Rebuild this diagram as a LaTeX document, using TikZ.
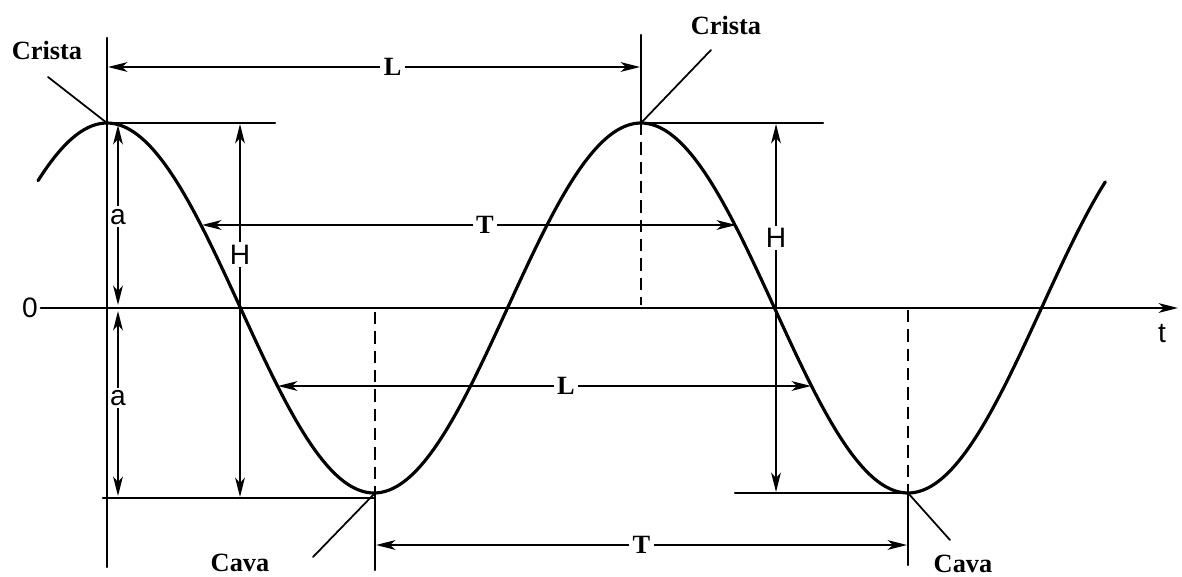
\documentclass[tikz,border=0pt]{standalone}
\usepackage{fontspec}
\setmainfont{Liberation Serif}
\setsansfont{Liberation Sans}
\usetikzlibrary{arrows.meta}

\begin{document}
\begin{tikzpicture}[x=0.02cm, y=-0.02cm, line cap=round,
    >={Stealth[length=11pt,width=5.5pt,inset=3pt]},
    wave/.style={line width=1.8pt},
    guide/.style={line width=1.4pt},
    dashguide/.style={line width=1.4pt, line cap=butt, dash pattern=on 7pt off 4pt},
    dim/.style={<->, line width=1.2pt},
    seriflbl/.style={font=\fontsize{15}{18}\selectfont\bfseries, inner sep=2pt},
    sanslbl/.style={font=\fontsize{16}{19}\selectfont\sffamily, inner sep=1.5pt},
    gap/.style={fill=white}]
  \def\A{185}       % amplitude in px
  \def\K{1.48333}   % px per degree of phase (wavelength 534 px)
  \useasboundingbox (0,0) rectangle (1182,577);

  % crests and troughs
  \coordinate (crA) at (107,123);
  \coordinate (crB) at (641,123);
  \coordinate (cvA) at (375,493);
  \coordinate (cvB) at (908,493);

  % axis
  \node[sanslbl] (zero) at (30,308) {0};
  \coordinate (axend) at (1178,308);
  \draw[guide, ->] (zero.east) -- (axend);
  \node[sanslbl] (tlbl) at (1162,334) {t};

  % the wave (phase in degrees, keeps numbers small)
  \draw[wave] plot[domain=-46.5:673, samples=200, smooth]
    ({107+\K*\x}, {308-\A*cos(\x)});

  % vertical reference lines
  \coordinate (vAtop) at (107,38);  \coordinate (vAbot) at (107,567);
  \coordinate (vBtop) at (641,35);  \coordinate (vBax) at (641,305);
  \coordinate (vCax) at (375,312);  \coordinate (vCbot) at (375,570);
  \coordinate (vDax) at (908,310);  \coordinate (vDbot) at (908,565);
  \draw[guide] (vAtop) -- (vAbot);
  \draw[guide] (vBtop) -- (crB);
  \draw[dashguide] (crB) -- (vBax);
  \draw[dashguide] (vCax) -- (cvA);
  \draw[guide] (cvA) -- (vCbot);
  \draw[dashguide] (vDax) -- (cvB);
  \draw[guide] (cvB) -- (vDbot);

  % horizontal reference lines
  \coordinate (hAend) at (275,123);
  \coordinate (hBend) at (823,123);
  \coordinate (hCbeg) at (103,498);  \coordinate (hCend) at (375,498);
  \coordinate (hDbeg) at (735,493);
  \draw[guide] (crA) -- (hAend);
  \draw[guide] (crB) -- (hBend);
  \draw[guide] (hCbeg) -- (hCend);
  \draw[guide] (hDbeg) -- (cvB);

  % wave length and period
  \coordinate (LupA) at (108,67);   \coordinate (LupB) at (640,67);
  \coordinate (TupA) at (202,225);  \coordinate (TupB) at (736,225);
  \coordinate (LloA) at (278,386);  \coordinate (LloB) at (811,386);
  \coordinate (TloA) at (376,545);  \coordinate (TloB) at (907,545);
  \draw[dim] (LupA) -- node[seriflbl, gap, pos=0.535] (Lup) {L} (LupB);
  \draw[dim] (TupA) -- node[seriflbl, gap, pos=0.53] (Tup) {T} (TupB);
  \draw[dim] (LloA) -- node[seriflbl, gap, pos=0.54] (Llo) {L} (LloB);
  \draw[dim] (TloA) -- node[seriflbl, gap, pos=0.5] (Tlo) {T} (TloB);

  % amplitude and height
  \coordinate (aAtop) at (118,125);  \coordinate (aAbot) at (118,305);
  \coordinate (aBtop) at (118,311);  \coordinate (aBbot) at (118,496);
  \coordinate (HAtop) at (240,124);  \coordinate (HAbot) at (240,497);
  \coordinate (HBtop) at (776,124);  \coordinate (HBbot) at (776,492);
  \draw[dim] (aAtop) -- node[sanslbl, gap, pos=0.51] (aup) {a} (aAbot);
  \draw[dim] (aBtop) -- node[sanslbl, gap, pos=0.47] (alo) {a} (aBbot);
  \draw[dim] (HAtop) -- node[sanslbl, gap, pos=0.35] (HA) {H} (HAbot);
  \draw[dim] (HBtop) -- node[sanslbl, gap, pos=0.31] (HB) {H} (HBbot);

  % crest and trough labels
  \node[seriflbl] (crAlbl) at (47,50) {Crista};
  \node[seriflbl] (crBlbl) at (726,25) {Crista};
  \node[seriflbl] (cvAlbl) at (240,563) {Cava};
  \node[seriflbl] (cvBlbl) at (963,564) {Cava};
  \coordinate (crAtail) at (48,77);
  \coordinate (crBtail) at (711,50);
  \coordinate (cvAtail) at (313,557);
  \coordinate (cvBtail) at (950,540);
  \draw[line width=1pt] (crAtail) -- (crA);
  \draw[line width=1pt] (crBtail) -- (crB);
  \draw[line width=1pt] (cvAtail) -- (cvA);
  \draw[line width=1pt] (cvBtail) -- (cvB);
\end{tikzpicture}
\end{document}
